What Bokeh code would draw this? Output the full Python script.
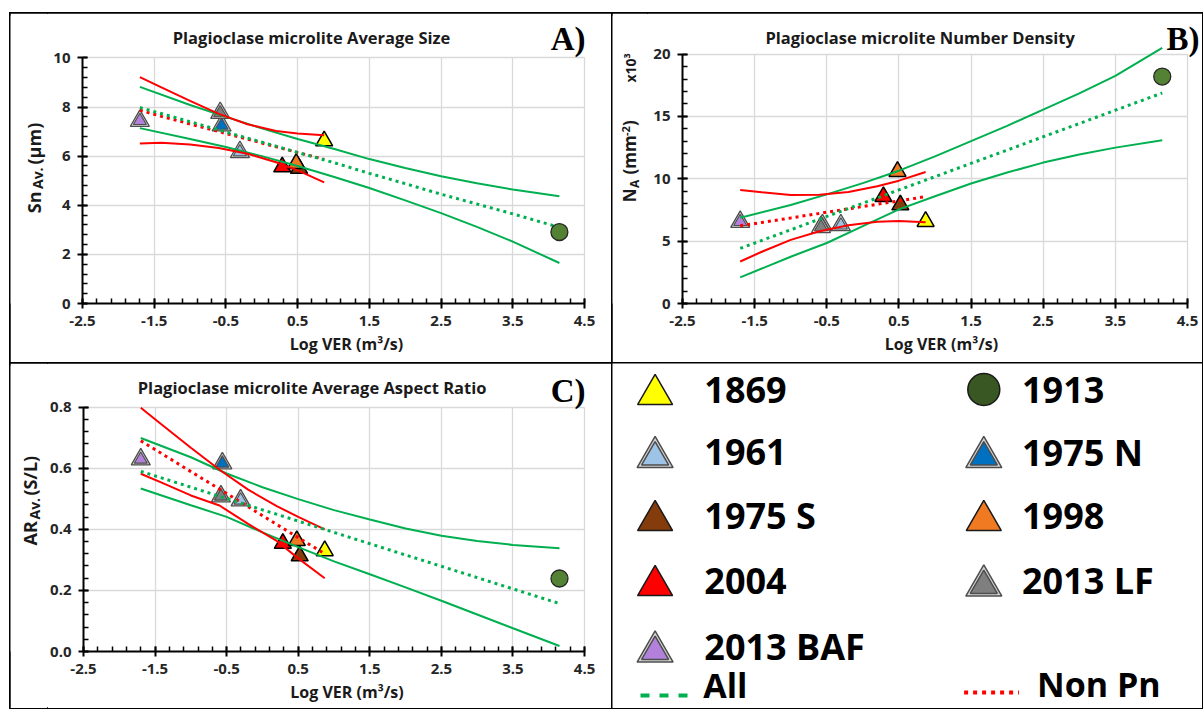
import numpy as np
from bokeh.plotting import figure
from bokeh.models import Range1d, FixedTicker, PrintfTickFormatter, ColumnDataSource, Spacer, Grid
from bokeh.layouts import row, column
from bokeh.transform import dodge
from bokeh.core.properties import value
from bokeh.embed import file_html
from bokeh.resources import INLINE

# ------------------------------------------------------------------ data
eruptions = ["1869", "1913", "1961", "1975 N", "1975 S", "1998", "2004", "2013 LF", "2013 BAF"]
log_ver = [0.87, 4.15, -0.305, -0.56, 0.52, 0.48, 0.285, -0.58, -1.70]
sn_av = [6.72, 2.91, 6.28, 7.36, 5.60, 5.80, 5.66, 7.87, 7.55]          # um
na_1e3 = [6.77, 18.2, 6.50, 6.50, 8.10, 10.78, 8.77, 6.35, 6.77]         # x10^3 mm^-2
ar_av = [0.338, 0.239, 0.504, 0.625, 0.321, 0.371, 0.362, 0.517, 0.638]  # S/L

trend_x_all = [-1.70, -1.0, -0.5, 0.0, 0.5, 1.0, 1.5, 2.0, 2.5, 3.0, 3.5, 4.15]
trend_x_nonpn = [-1.70, -1.4, -1.0, -0.6, -0.2, 0.2, 0.5, 0.87]

sn_all_fit = [7.98, 7.40, 6.98, 6.57, 6.15, 5.74, 5.30, 4.88, 4.45, 4.05, 3.65, 3.10]
sn_all_hi = [8.82, 8.08, 7.60, 7.13, 6.70, 6.30, 5.88, 5.52, 5.18, 4.90, 4.64, 4.37]
sn_all_lo = [7.14, 6.70, 6.37, 6.00, 5.60, 5.16, 4.70, 4.20, 3.68, 3.12, 2.52, 1.65]
sn_np_fit = [7.87, 7.62, 7.31, 7.00, 6.69, 6.38, 6.15, 5.87]
sn_np_hi = [9.22, 8.80, 8.25, 7.72, 7.30, 7.02, 6.92, 6.85]
sn_np_lo = [6.51, 6.55, 6.47, 6.33, 6.10, 5.75, 5.42, 4.93]

na_all_fit = [4.42, 5.91, 6.98, 8.04, 9.11, 10.17, 11.24, 12.30, 13.37, 14.43, 15.50, 16.88]
na_all_hi = [6.88, 7.90, 8.75, 9.65, 10.65, 11.80, 13.02, 14.25, 15.55, 16.85, 18.25, 20.50]
na_all_lo = [2.09, 3.75, 4.85, 6.20, 7.55, 8.60, 9.62, 10.50, 11.30, 11.95, 12.50, 13.10]
na_np_fit = [6.23, 6.50, 6.86, 7.23, 7.59, 7.96, 8.23, 8.57]
na_np_hi = [9.10, 8.92, 8.70, 8.72, 8.95, 9.40, 9.85, 10.55]
na_np_lo = [3.37, 4.15, 5.10, 5.80, 6.27, 6.55, 6.62, 6.52]

ar_all_fit = [0.590, 0.538, 0.501, 0.464, 0.427, 0.390, 0.353, 0.316, 0.279, 0.242, 0.205, 0.157]
ar_all_hi = [0.699, 0.636, 0.583, 0.538, 0.499, 0.463, 0.432, 0.403, 0.379, 0.362, 0.349, 0.338]
ar_all_lo = [0.534, 0.479, 0.441, 0.390, 0.342, 0.295, 0.253, 0.210, 0.166, 0.121, 0.076, 0.018]
ar_np_fit = [0.690, 0.647, 0.589, 0.532, 0.474, 0.416, 0.373, 0.320]
ar_np_hi = [0.798, 0.742, 0.667, 0.595, 0.530, 0.476, 0.441, 0.400]
ar_np_lo = [0.582, 0.552, 0.511, 0.478, 0.418, 0.362, 0.305, 0.240]

x_ticks = [-2.5, -1.5, -0.5, 0.5, 1.5, 2.5, 3.5, 4.5]
sn_ticks = [0, 2, 4, 6, 8, 10]
na_ticks = [0, 5, 10, 15, 20]
ar_ticks = [0.0, 0.2, 0.4, 0.6, 0.8]

legend_col1 = ["1869", "1961", "1975 S", "2004", "2013 BAF"]
legend_col2 = ["1913", "1975 N", "1998", "2013 LF"]

# ------------------------------------------------------------------ styles
FONT = "Open Sans"
GREEN = "#00B050"
RED = "#FF0000"
OUTLINE = {"outline": "2px solid black", "outline-offset": "-1px"}
HAS_CROSS_BOUNDS = "cross_bounds" in Grid.properties()
STYLE = {
    "1869": dict(fill="#FFFF00", double=False, marker="triangle"),
    "1913": dict(fill="#548235", double=False, marker="circle"),
    "1961": dict(fill="#9DC3E6", double=True, marker="triangle"),
    "1975 N": dict(fill="#0070C0", double=True, marker="triangle"),
    "1975 S": dict(fill="#843C0C", double=False, marker="triangle"),
    "1998": dict(fill="#F07A22", double=False, marker="triangle"),
    "2004": dict(fill="#FF0000", double=False, marker="triangle"),
    "2013 LF": dict(fill="#7F7F7F", double=True, marker="triangle"),
    "2013 BAF": dict(fill="#B381DB", double=True, marker="triangle"),
}
DRAW_ORDER = ["1961", "1975 N", "2013 LF", "2013 BAF", "2004", "1975 S", "1998", "1869"]


def text_fig(x0, x1, y0, y1, bt=0, bb=0):
    """Axis-less figure whose data coordinates equal page pixel coordinates."""
    f = figure(width=x1 - x0, height=y1 - y0, x_range=Range1d(x0, x1),
               y_range=Range1d(y1 - bb, y0 + bt),
               min_border_left=0, min_border_right=0, min_border_top=bt, min_border_bottom=bb,
               x_axis_location=None, y_axis_location=None,
               toolbar_location=None, output_backend="svg")
    f.grid.visible = False
    f.outline_line_color = None
    return f


def gtext(f, x, y, s, size, font=FONT, align="left", baseline="middle", angle=0.0,
          color="#1a1a1a", style="bold", **kw):
    f.text([x], [y], text=[s], angle=angle, text_font=value(font), text_font_size=f"{size}px",
           text_font_style=style, text_align=align, text_baseline=baseline, text_color=color, **kw)


def make_chart(px0, px1, py0, py1, fl, fr, ft, fb, x_ppu, y_ppu, ymax, yticks, yminor_step, yfmt):
    """Chart whose frame spans (fl..fr, ft..fb) in page pixels; axes bounded to the data box."""
    p = figure(width=px1 - px0, height=py1 - py0,
               x_range=Range1d(-2.5, -2.5 + (fr - fl) / x_ppu),
               y_range=Range1d(0, (fb - ft) / y_ppu),
               min_border_left=fl - px0, min_border_right=px1 - fr,
               min_border_top=ft - py0, min_border_bottom=py1 - fb,
               toolbar_location=None, output_backend="svg")
    p.extra_x_ranges = {"px": Range1d(fl, fr)}
    p.extra_y_ranges = {"px": Range1d(fb, ft)}
    p.outline_line_color = None
    xminor = [round(v, 2) for v in np.arange(-2.5, 4.5001, 0.2)]
    yminor = [round(v, 4) for v in np.arange(0, ymax + 1e-9, yminor_step)]
    p.xaxis.ticker = FixedTicker(ticks=x_ticks, minor_ticks=xminor)
    p.yaxis.ticker = FixedTicker(ticks=yticks, minor_ticks=yminor)
    p.xaxis.formatter = PrintfTickFormatter(format="%.1f")
    p.yaxis.formatter = PrintfTickFormatter(format=yfmt)
    p.xaxis.bounds = (-2.5, 4.5)
    p.yaxis.bounds = (0, ymax)
    if HAS_CROSS_BOUNDS:
        p.xgrid.cross_bounds = (0, ymax)
        p.ygrid.cross_bounds = (-2.5, 4.5)
    for ax in (p.xaxis[0], p.yaxis[0]):
        ax.axis_line_width = 2
        ax.axis_line_color = "black"
        ax.major_tick_line_width = 2
        ax.major_tick_line_color = "black"
        ax.minor_tick_line_width = 1.5
        ax.minor_tick_line_color = "black"
        ax.major_tick_in = 5
        ax.major_tick_out = 5
        ax.minor_tick_in = 5
        ax.minor_tick_out = 0
        ax.major_label_text_font = FONT
        ax.major_label_text_font_size = "15px"
        ax.major_label_text_font_style = "bold"
        ax.major_label_text_color = "#262626"
    p.xaxis.major_label_standoff = 7
    p.yaxis.major_label_standoff = 7
    p.xaxis.axis_label = "Log VER (m³/s)"
    p.xaxis.axis_label_text_font = FONT
    p.xaxis.axis_label_text_font_size = "16px"
    p.xaxis.axis_label_text_font_style = "bold"
    p.xaxis.axis_label_text_color = "#1a1a1a"
    p.xaxis.axis_label_standoff = 4
    p.xgrid.grid_line_color = "#d9d9d9"
    p.ygrid.grid_line_color = "#d9d9d9"
    p.xgrid.grid_line_width = 1.3
    p.ygrid.grid_line_width = 1.3
    return p


def ctext(p, x, y, s, size, **kw):
    gtext(p, x, y, s, size, x_range_name="px", y_range_name="px", **kw)


def draw_series(p, yvals, fit, hi, lo, np_fit, np_hi, np_lo, ppu):
    for name in DRAW_ORDER:
        i = eruptions.index(name)
        st = STYLE[name]
        src = ColumnDataSource(dict(x=[log_ver[i]], y=[yvals[i]]))
        if st["double"]:
            s_out, s_in = 19, 13
            dy = (0.866 * s_out / 6) / ppu
            p.scatter("x", dodge("y", -dy), source=src, marker="triangle", size=s_out,
                      fill_color="#d4d4d4", line_color="#4d4d4d", line_width=1.3)
            p.scatter("x", dodge("y", -dy), source=src, marker="triangle", size=s_in,
                      fill_color=st["fill"], line_color="#4d4d4d", line_width=1.1)
        else:
            s = 17
            dy = (0.866 * s / 6) / ppu
            p.scatter("x", dodge("y", -dy), source=src, marker="triangle", size=s,
                      fill_color=st["fill"], line_color="black", line_width=1.5)
    p.line(trend_x_all, hi, line_color=GREEN, line_width=2)
    p.line(trend_x_all, lo, line_color=GREEN, line_width=2)
    p.line(trend_x_nonpn, np_hi, line_color=RED, line_width=2)
    p.line(trend_x_nonpn, np_lo, line_color=RED, line_width=2)
    p.line(trend_x_nonpn, np_fit, line_color=RED, line_width=3, line_dash="3 4")
    p.line(trend_x_all, fit, line_color=GREEN, line_width=3, line_dash="3 4")
    i = eruptions.index("1913")
    p.scatter([log_ver[i]], [yvals[i]], marker="circle", size=17, fill_color=STYLE["1913"]["fill"],
              line_color="#262626", line_width=1.3)


# ------------------------------------------------------------------ panel A (page x 10..612, y 13..363)
ppuA = 245.6 / 10
chA = make_chart(47, 612, 13, 363, 82, 610, 15, 303, 502 / 7, ppuA, 10, sn_ticks, 0.4, "%d")
draw_series(chA, sn_av, sn_all_fit, sn_all_hi, sn_all_lo, sn_np_fit, sn_np_hi, sn_np_lo, ppuA)
ctext(chA, 311, 37, "Plagioclase microlite Average Size", 16.5, align="center")
ctext(chA, 585, 38, "A)", 33, font="Liberation Serif", align="right", color="black")
ylA = text_fig(10, 47, 13, 363, bt=2, bb=60)
gtext(ylA, 33, 212.7, "Sn", 18, angle=np.pi / 2)
gtext(ylA, 37, 188.5, "Av.", 14, angle=np.pi / 2)
gtext(ylA, 33, 164, "(µm)", 18, angle=np.pi / 2)
panelA = row(ylA, chA)
panelA.styles = OUTLINE

# ------------------------------------------------------------------ panel B (page x 612..1202, y 13..363)
ppuB = 249.4 / 20
chB = make_chart(647, 1202, 13, 363, 682, 1200, 15, 303, 505 / 7, ppuB, 20, na_ticks, 1.0, "%d")
draw_series(chB, na_1e3, na_all_fit, na_all_hi, na_all_lo, na_np_fit, na_np_hi, na_np_lo, ppuB)
ctext(chB, 919.6, 36.7, "Plagioclase microlite Number Density", 16.5, align="center")
ctext(chB, 1199, 38, "B)", 33, font="Liberation Serif", align="right", color="black")
ylB = text_fig(612, 647, 13, 363, bt=2, bb=60)
gtext(ylB, 629.3, 201.7, "N", 17, angle=np.pi / 2)
gtext(ylB, 633.5, 187.5, "A", 12, angle=np.pi / 2)
gtext(ylB, 629.3, 174, "(mm", 17, angle=np.pi / 2)
gtext(ylB, 625.0, 135.5, "-2", 11, angle=np.pi / 2)
gtext(ylB, 629.3, 125.5, ")", 17, angle=np.pi / 2)
gtext(ylB, 630, 82, "x10³", 14, angle=np.pi / 2)
panelB = row(ylB, chB)
panelB.styles = OUTLINE

# ------------------------------------------------------------------ panel C (page x 10..612, y 363..708)
ppuC = (651 - 406.7) / 0.8
chC = make_chart(47, 612, 363, 708, 82, 610, 365, 651, 502 / 7, ppuC, 0.8, ar_ticks, 0.04, "%.1f")
draw_series(chC, ar_av, ar_all_fit, ar_all_hi, ar_all_lo, ar_np_fit, ar_np_hi, ar_np_lo, ppuC)
ctext(chC, 311, 386.7, "Plagioclase microlite Average Aspect Ratio", 16.5, align="center")
ctext(chC, 585, 390, "C)", 33, font="Liberation Serif", align="right", color="black")
ylC = text_fig(10, 47, 363, 708, bt=2, bb=57)
gtext(ylC, 29, 545, "AR", 18, angle=np.pi / 2)
gtext(ylC, 33.5, 519, "Av.", 14, angle=np.pi / 2)
gtext(ylC, 29, 495, "(S/L)", 18, angle=np.pi / 2)
panelC = row(ylC, chC)
panelC.styles = OUTLINE

# ------------------------------------------------------------------ legend panel (page x 612..1202, y 363..708)
pL = text_fig(612, 1202, 363, 708)
row_y = [389, 451.5, 515, 580, 646]
cols = [(legend_col1, 654.6, 703.8), (legend_col2, 983.3, 1021.5)]
for names, mx, tx in cols:
    for k, name in enumerate(names):
        st = STYLE[name]
        yy = row_y[k]
        if st["marker"] == "circle":
            pL.scatter([mx], [yy], marker="circle", size=32, fill_color="#385723",
                       line_color="#1a1a1a", line_width=1.5)
        elif st["double"]:
            pL.scatter([mx], [yy + 5.2], marker="triangle", size=36, fill_color="#d4d4d4",
                       line_color="#4d4d4d", line_width=1.5)
            pL.scatter([mx], [yy + 5.2], marker="triangle", size=27, fill_color=st["fill"],
                       line_color="#4d4d4d", line_width=1.5)
        else:
            pL.scatter([mx], [yy + 5.0], marker="triangle", size=35, fill_color=st["fill"],
                       line_color="#1a1a1a", line_width=1.5)
        gtext(pL, tx, yy, name, 36, color="black")

pL.line([640, 689], [695, 695], line_color=GREEN, line_width=4, line_dash="9 10")
gtext(pL, 702.7, 684, "All", 34, color="black")
pL.line([963.6, 1018.5], [692, 692], line_color=RED, line_width=4, line_dash="4 5")
gtext(pL, 1036.6, 683, "Non Pn", 34, color="black")
panelL = column(pL)
panelL.styles = OUTLINE

layout = column(
    Spacer(width=1202, height=13),
    row(Spacer(width=10, height=350), panelA, panelB),
    row(Spacer(width=10, height=345), panelC, panelL),
)
open("out.html", "w").write(file_html(layout, INLINE))
